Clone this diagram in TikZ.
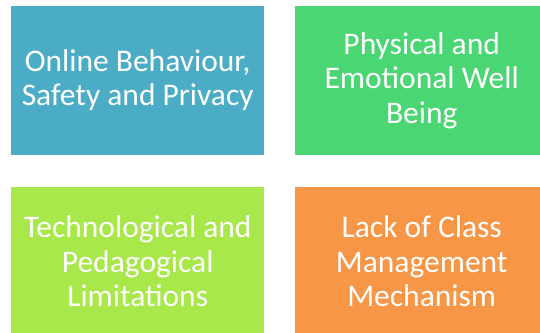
\documentclass[tikz,border=0pt]{standalone}
\usepackage{fontspec}
\setmainfont{Carlito}
\definecolor{tileblue}{HTML}{4BACC6}
\definecolor{tilegreen}{HTML}{4AD672}
\definecolor{tilelime}{HTML}{A9E84B}
\definecolor{tileorange}{HTML}{F79646}
\begin{document}
\begin{tikzpicture}[x=1bp,y=1bp,
  tile/.style={rectangle, anchor=south west, inner sep=0pt,
    minimum width=253bp, minimum height=149bp, text=white,
    align=center, font=\fontsize{31.5bp}{34.5bp}\selectfont}]
  \useasboundingbox (0,0) rectangle (540,332);
  \fill[white] (0,0) rectangle (540,332);
  \node[tile, fill=tileblue]   (online)  at (11,177) {Online Behaviour,\\Safety and Privacy};
  \node[tile, fill=tilegreen]  (wellbeing) at (295,177) {Physical and\\Emotional Well\\Being};
  \node[tile, fill=tilelime]   (limits)  at (11,-4) {Technological and\\Pedagogical\\Limitations};
  \node[tile, fill=tileorange] (classmgmt) at (295,-4) {Lack of Class\\Management\\Mechanism};
\end{tikzpicture}
\end{document}
